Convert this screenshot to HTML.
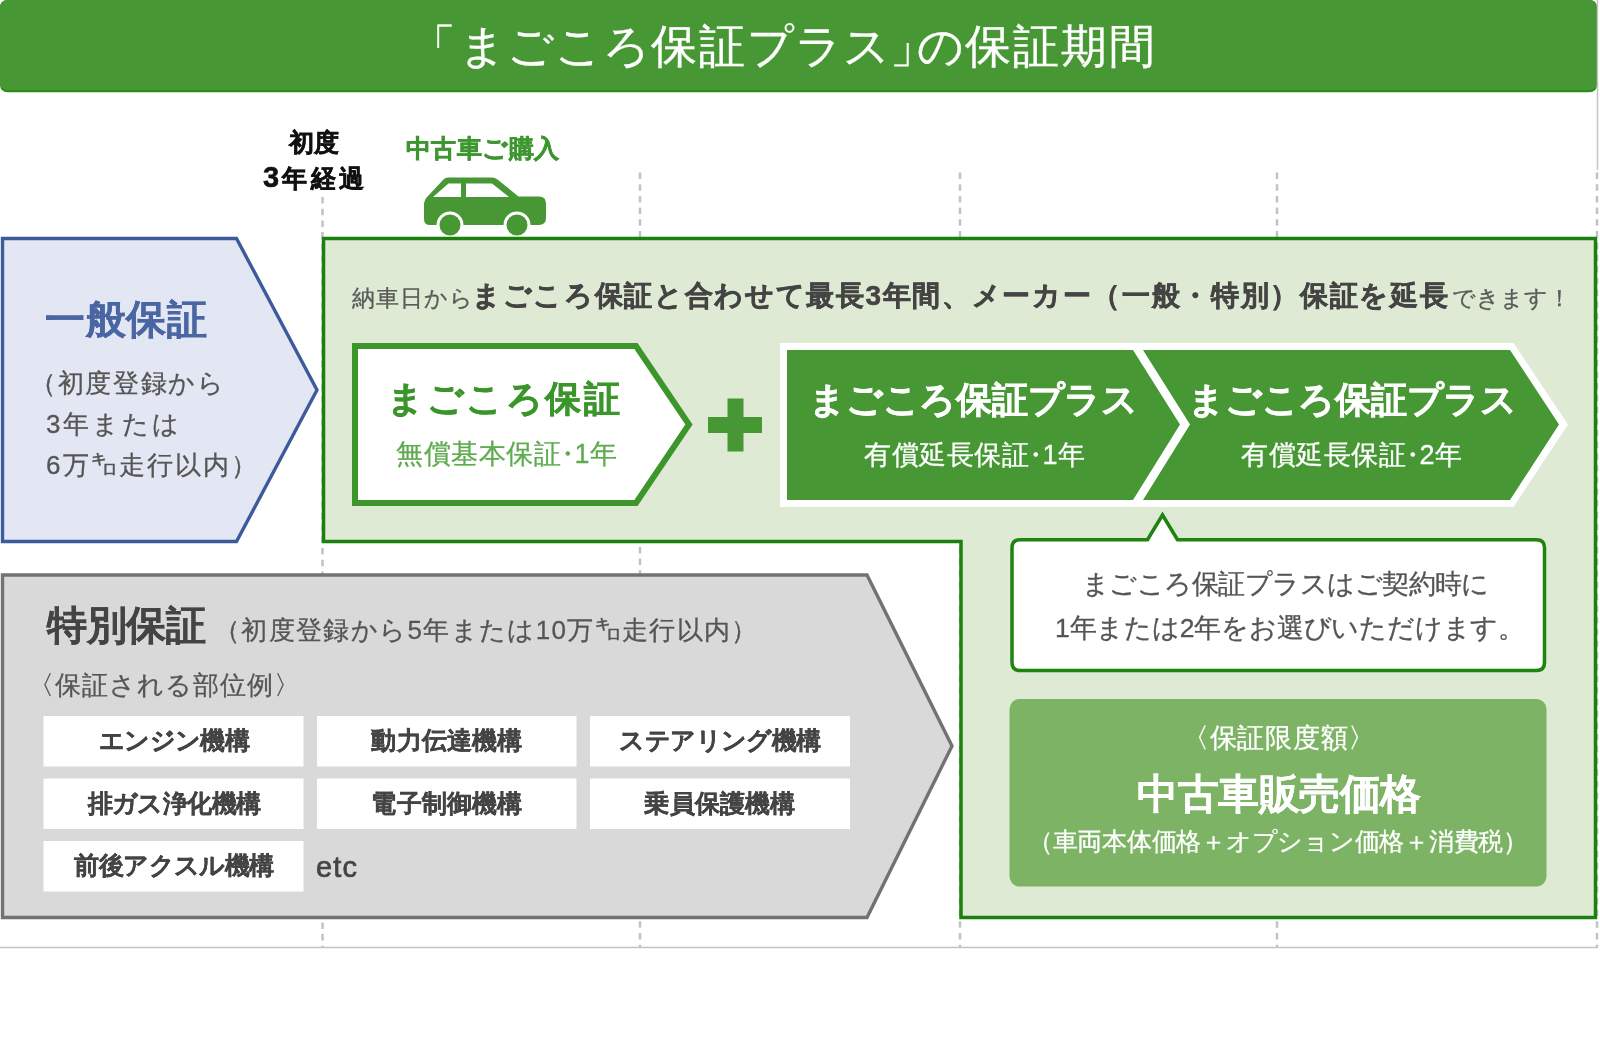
<!DOCTYPE html>
<html lang="ja">
<head>
<meta charset="utf-8">
<style>
html,body{margin:0;padding:0;background:#fff;}
body{width:1600px;height:1050px;position:relative;overflow:hidden;font-family:"Liberation Sans",sans-serif;}
svg.bg{position:absolute;left:0;top:0;}
.t{position:absolute;white-space:nowrap;line-height:1;will-change:transform;-webkit-text-stroke:0.3px currentColor;}
.b{font-weight:bold;-webkit-text-stroke:0.55px currentColor;}
#title .c{display:inline-block;width:48px;text-align:center;}
.dot{margin:0 -7px;}
.it{width:260px;text-align:center;font-size:25px;letter-spacing:-0.6px;color:#444;-webkit-text-stroke:0.3px #444;}
</style>
</head>
<body>
<svg class="bg" width="1600" height="1050" viewBox="0 0 1600 1050">
  <!-- header -->
  <path d="M8,0 H1589 Q1597,0 1597,8 V84 Q1597,92.3 1589,92.3 H8 Q0,92.3 0,84 V8 Q0,0 8,0 Z" fill="#2a8b17"/>
  <path d="M8,0 H1589 Q1597,0 1597,8 V82 Q1597,90.3 1589,90.3 H8 Q0,90.3 0,82 V8 Q0,0 8,0 Z" fill="#479834"/>
  <!-- right border line -->
  <line x1="1597.5" y1="0" x2="1597.5" y2="170" stroke="#c4c4c4" stroke-width="1.5"/>
  <!-- bottom line -->
  <line x1="0" y1="947.5" x2="1598" y2="947.5" stroke="#c4c4c4" stroke-width="1.5"/>
  <!-- dashed verticals -->
  <g stroke="#c2c2c2" stroke-width="2.5" stroke-dasharray="6.5 5.2">
    <line x1="322.5" y1="197" x2="322.5" y2="947"/>
    <line x1="640" y1="172.5" x2="640" y2="947"/>
    <line x1="960" y1="172.5" x2="960" y2="947"/>
    <line x1="1277" y1="172.5" x2="1277" y2="947"/>
    <line x1="1597" y1="172.5" x2="1597" y2="947"/>
  </g>
  <!-- car -->
  <g fill="#479834">
    <path d="M448,177.5 H492 Q495,177.5 497.5,179.5 L518.5,196.5 H539 Q546,196.5 546,203.5 V218 Q546,225 539,225 H430 Q424,225 424,219 V205 Q424,200 427.5,196.5 L443.5,179.5 Q445.5,177.5 448,177.5 Z"/>
    <path d="M433,197 L448.5,183.5 H461 V197 Z M466,183.5 H492 L509,197 H466 Z" fill="#fff"/>
    <circle cx="450" cy="225" r="13.5" fill="#fff"/>
    <circle cx="517" cy="225" r="13.5" fill="#fff"/>
    <circle cx="450" cy="225" r="10.5"/>
    <circle cx="517" cy="225" r="10.5"/>
  </g>
  <!-- blue pentagon -->
  <path d="M2.5,238.5 H236.5 L317,390 L236.5,541.5 H2.5 Z" fill="#e3e7f3" stroke="#3d5a9b" stroke-width="3.4"/>
  <!-- big green box -->
  <path d="M323.5,238.5 H1595.5 V917.5 H961 V541.5 H323.5 Z" fill="#deead3" stroke="#1c800e" stroke-width="3.5"/>
  <!-- gray pentagon -->
  <path d="M2.5,575 H867 L952,746 L867,917.5 H2.5 Z" fill="#d9d9d9" stroke="#727272" stroke-width="3.4"/>
  <!-- white pentagon -->
  <path d="M355,346 H636 L689,424.5 L636,503 H355 Z" fill="#fff" stroke="#3c962c" stroke-width="6"/>
  <!-- plus -->
  <rect x="708" y="417" width="54" height="16" fill="#479834"/>
  <rect x="727.5" y="398.5" width="16" height="53" fill="#479834"/>
  <!-- chevrons -->
  <path d="M780,343 H1513.5 L1568,424.5 L1513.5,507 H780 Z" fill="#fff"/>
  <path d="M787,350 H1133 L1180,424.5 L1133,500 H787 Z" fill="#479834"/>
  <path d="M1143,350 H1510 L1559,424.5 L1510,500 H1143 L1190,424.5 Z" fill="#479834"/>
  <!-- bubble -->
  <path d="M1020,539.75 H1147.5 L1162.5,515 L1177.5,539.75 H1536.5 Q1544.5,539.75 1544.5,547.75 V662.5 Q1544.5,670.5 1536.5,670.5 H1020 Q1012,670.5 1012,662.5 V547.75 Q1012,539.75 1020,539.75 Z" fill="#fff" stroke="#1e840f" stroke-width="3.5"/>
  <!-- green price box -->
  <rect x="1009.5" y="699" width="537" height="187.5" rx="10" fill="#7db365"/>
  <!-- item boxes -->
  <g fill="#fff">
    <rect x="43.5" y="716" width="260" height="50.5"/>
    <rect x="317" y="716" width="259.5" height="50.5"/>
    <rect x="590" y="716" width="260" height="50.5"/>
    <rect x="43.5" y="778.5" width="260" height="50.5"/>
    <rect x="317" y="778.5" width="259.5" height="50.5"/>
    <rect x="590" y="778.5" width="260" height="50.5"/>
    <rect x="43.5" y="841" width="260" height="50.5"/>
  </g>
</svg>
<div class="t" id="title" style="-webkit-text-stroke:0.35px #fff;left:432.4px;top:24px;font-size:45.5px;color:#fff;"><span class="c" style="width:26px;text-indent:-24px">「</span><span class="c">ま</span><span class="c">ご</span><span class="c">こ</span><span class="c">ろ</span><span class="c">保</span><span class="c">証</span><span class="c">プ</span><span class="c">ラ</span><span class="c">ス</span><span class="c" style="width:26px">」</span><span class="c">の</span><span class="c">保</span><span class="c">証</span><span class="c">期</span><span class="c">間</span></div>
<div class="t b" id="shodo1" style="left:289px;top:130px;font-size:25px;color:#111;">初度</div>
<div class="t b" id="shodo2" style="left:263px;top:162.5px;font-size:25px;letter-spacing:3.2px;color:#111;"><span style="font-size:29px;">3</span>年経過</div>
<div class="t b" id="kounyu" style="left:406px;top:136px;font-size:25px;letter-spacing:0.4px;color:#3d962f;">中古車ご購入</div>
<div class="t b" id="ippan" style="-webkit-text-stroke:0.3px currentColor;left:45px;top:299px;font-size:40px;letter-spacing:0.6px;color:#4a66a3;">一般保証</div>
<div class="t" id="ip1" style="left:30px;top:370px;font-size:26px;letter-spacing:1.67px;color:#555;">（初度登録から</div>
<div class="t" id="ip2" style="left:46px;top:411px;font-size:26px;letter-spacing:3px;color:#555;">3年または</div>
<div class="t" id="ip3" style="left:46px;top:452px;font-size:26px;letter-spacing:2.1px;color:#555;">6万㌔走行以内）</div>
<div class="t" id="n1" style="left:352px;top:287px;font-size:23px;letter-spacing:0.95px;color:#5a5a5a;">納車日から</div>
<div class="t b" id="n2" style="left:472px;top:282px;font-size:28px;letter-spacing:1.66px;color:#444;">まごころ保証と合わせて最長3年間、メーカー（一般・特別）保証を延長</div>
<div class="t" id="n3" style="left:1452px;top:287px;font-size:23px;color:#5a5a5a;">できます！</div>
<div class="t b" id="mg1" style="left:387px;top:381px;font-size:36px;letter-spacing:2.6px;color:#3a962a;">まごころ保証</div>
<div class="t" id="mg1s" style="left:395.5px;top:441px;font-size:27px;letter-spacing:0.5px;color:#5fab4f;">無償基本保証<span class="dot">・</span>1年</div>
<div class="t b" id="mp1" style="left:809px;top:382px;font-size:36px;letter-spacing:-0.25px;color:#fff;">まごころ保証プラス</div>
<div class="t" id="mp1s" style="left:864px;top:442px;font-size:27px;letter-spacing:0.5px;color:#fff;">有償延長保証<span class="dot">・</span>1年</div>
<div class="t b" id="mp2" style="left:1188px;top:382px;font-size:36px;letter-spacing:-0.25px;color:#fff;">まごころ保証プラス</div>
<div class="t" id="mp2s" style="left:1241px;top:442px;font-size:27px;letter-spacing:0.5px;color:#fff;">有償延長保証<span class="dot">・</span>2年</div>
<div class="t" id="bub1" style="left:1081.5px;top:571px;font-size:26.7px;letter-spacing:-0.54px;color:#555;">まごころ保証プラスはご契約時に</div>
<div class="t" id="bub2" style="left:1055px;top:615px;font-size:26.5px;letter-spacing:-0.19px;color:#555;">1年または2年をお選びいただけます。</div>
<div class="t" id="gendo" style="left:1182px;top:725px;font-size:26.5px;letter-spacing:0.74px;color:#fff;">〈保証限度額〉</div>
<div class="t b" id="kakaku" style="-webkit-text-stroke:0.3px currentColor;left:1137px;top:774px;font-size:40.5px;letter-spacing:-0.5px;color:#fff;">中古車販売価格</div>
<div class="t" id="kakaku2" style="left:1028px;top:830px;font-size:24.5px;letter-spacing:-0.26px;color:#fff;">（車両本体価格＋オプション価格＋消費税）</div>
<div class="t b" id="tokubetsu" style="-webkit-text-stroke:0.3px currentColor;left:47px;top:605px;font-size:40px;letter-spacing:-0.3px;color:#444;">特別保証</div>
<div class="t" id="tok2" style="left:214px;top:617px;font-size:26px;letter-spacing:1.35px;color:#555;">（初度登録から5年または10万㌔走行以内）</div>
<div class="t" id="buii" style="left:28px;top:672px;font-size:26px;letter-spacing:1px;color:#555;">〈保証される部位例〉</div>
<div class="t b it" id="i1" style="left:43.5px;top:728px;">エンジン機構</div>
<div class="t b it" id="i2" style="letter-spacing:0.2px;left:317px;top:728px;">動力伝達機構</div>
<div class="t b it" id="i3" style="left:590px;top:728px;">ステアリング機構</div>
<div class="t b it" id="i4" style="left:43.5px;top:791px;">排ガス浄化機構</div>
<div class="t b it" id="i5" style="letter-spacing:0.2px;left:317px;top:791px;">電子制御機構</div>
<div class="t b it" id="i6" style="letter-spacing:0.2px;left:590px;top:791px;">乗員保護機構</div>
<div class="t b it" id="i7" style="left:43.5px;top:853px;">前後アクスル機構</div>
<div class="t" id="etc" style="left:316px;top:853px;font-size:29px;letter-spacing:1.2px;color:#444;-webkit-text-stroke:0.7px #444;">etc</div>
</body>
</html>
